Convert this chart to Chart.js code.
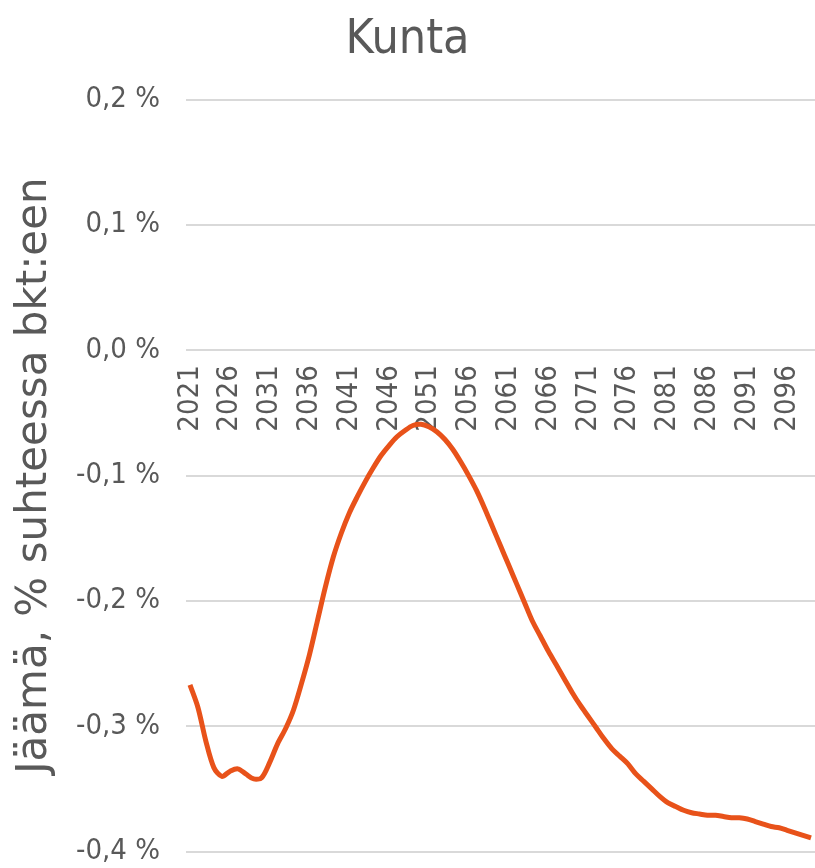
<!DOCTYPE html>
<html>
<head>
<meta charset="utf-8">
<script src="https://cdn.jsdelivr.net/npm/chart.js@4.4.1/dist/chart.umd.min.js"></script>
<style>
  html, body { margin: 0; padding: 0; background: #ffffff; overflow: hidden; }
  #wrap { width: 815px; height: 868px; overflow: hidden; }
  canvas { display: block; }
</style>
</head>
<body>
<div id="wrap">
<!-- canvas a bit taller than the page: the layout keeps spare room under the last gridline, let it fall outside -->
<canvas id="kuntaChart" width="815" height="895"></canvas>
</div>
<script>
const years = []
for (let y = 2021; y <= 2099; y++) years.push(String(y))

// municipal balance, % of GDP
const balance = [
    -0.267, -0.285, -0.312, -0.333, -0.340, -0.336, -0.334, -0.338, -0.342, -0.341,
    -0.329, -0.314, -0.302, -0.287, -0.266, -0.243, -0.216, -0.189, -0.165, -0.146,
    -0.130, -0.117, -0.105, -0.094, -0.084, -0.076, -0.069, -0.064, -0.060, -0.059,
    -0.061, -0.065, -0.071, -0.079, -0.089, -0.100, -0.112, -0.126, -0.141, -0.156,
    -0.171, -0.186, -0.201, -0.216, -0.228, -0.240, -0.251, -0.262, -0.273, -0.283,
    -0.292, -0.301, -0.310, -0.318, -0.324, -0.330, -0.338, -0.344, -0.350, -0.356,
    -0.361, -0.364, -0.367, -0.369, -0.370, -0.371, -0.371, -0.372, -0.373, -0.373,
    -0.374, -0.376, -0.378, -0.380, -0.381, -0.383, -0.385, -0.387, -0.389
]

const yMin = -0.4
const yMax = 0.2
const yStep = 0.1

const textColor = '#595959'

new Chart(
    document.getElementById('kuntaChart'),
    {
        type: 'line',
        data: {
            labels: years,
            datasets: [{
                data: balance,
                borderColor: '#E8521A',
                backgroundColor: '#E8521A',
                borderWidth: 5,
                pointRadius: 0,
                tension: 0.3,
                fill: false
            }]
        },
        options: {
            responsive: false,
            animation: false,
            events: [],
            plugins: {
                legend: { display: false },
                tooltip: { enabled: false },
                title: {
                    display: true,
                    text: 'Kunta',
                    color: textColor,
                    font: { family: '"DejaVu Sans Condensed", "DejaVu Sans", sans-serif', size: 48, weight: 'normal' },
                    padding: { top: 12, bottom: 30 }
                }
            },
            scales: {
                x: {
                    type: 'category',
                    position: { y: 0 },
                    offset: true,
                    grid: { display: false, drawTicks: false },
                    border: { display: false },
                    afterFit: function (scale) {
                        scale.height = 0//labels sit on the zero line, take no room
                        scale.paddingLeft = 0
                        scale.paddingRight = 0
                        scale.paddingTop = 0
                        scale.paddingBottom = 0
                    },
                    ticks: {
                        autoSkip: false,
                        minRotation: 90,
                        maxRotation: 90,
                        padding: 15,
                        color: textColor,
                        font: { family: '"DejaVu Sans Condensed", "DejaVu Sans", sans-serif', size: 29 },
                        callback: function (value, index) {
                            return index % 5 === 0 ? this.getLabelForValue(value) : ''
                        }
                    }
                },
                y: {
                    min: yMin,
                    max: yMax,
                    grid: { color: '#d9d9d9', lineWidth: 2, drawTicks: false },
                    border: { display: false },
                    afterFit: function (scale) {
                        scale.width = 186
                    },
                    title: {
                        display: true,
                        text: 'Jäämä, % suhteessa bkt:een',
                        color: textColor,
                        font: { family: '"DejaVu Sans", sans-serif', size: 42 },
                        padding: { top: 10, bottom: 0 }
                    },
                    ticks: {
                        stepSize: yStep,
                        padding: 26,
                        color: textColor,
                        font: { family: '"DejaVu Sans Condensed", "DejaVu Sans", sans-serif', size: 29 },
                        callback: function (value) {
                            let v = Math.abs(value) < 1e-9 ? 0 : value
                            return v.toFixed(1).replace('.', ',') + ' %'
                        }
                    }
                }
            }
        }
    })
</script>
</body>
</html>
